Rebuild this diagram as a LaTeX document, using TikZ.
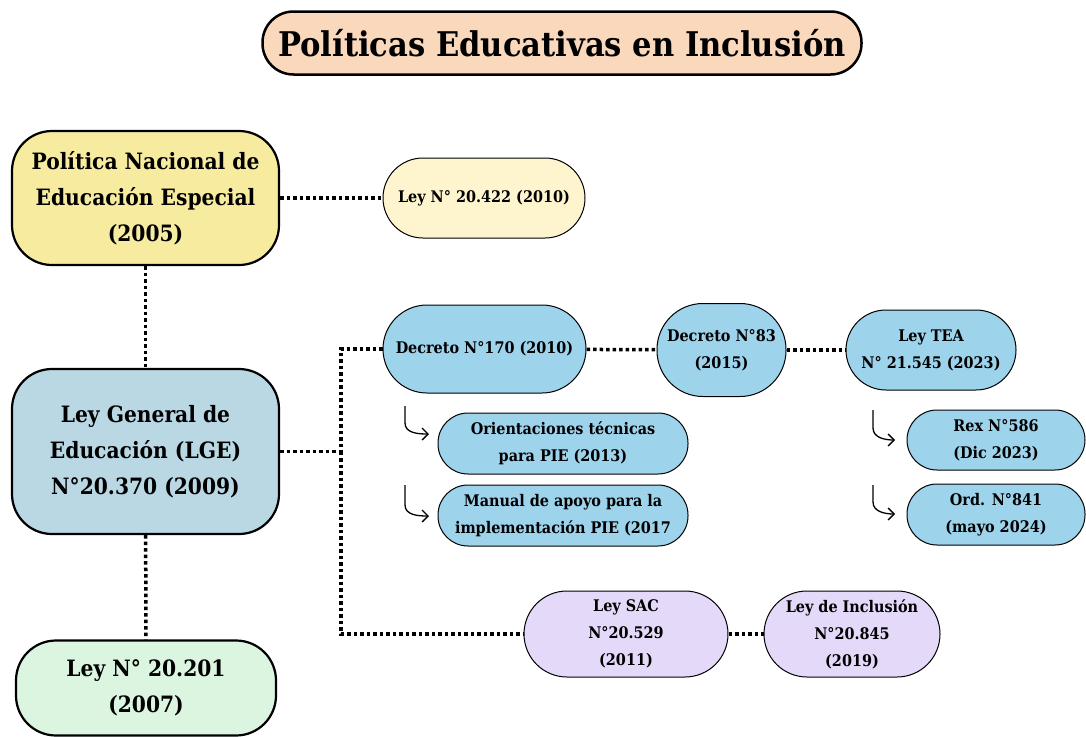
\documentclass[tikz,border=0pt]{standalone}
\usepackage{fontspec}
\setmainfont{DejaVu Serif Condensed}
\usetikzlibrary{arrows.meta}

\definecolor{titlefill}{HTML}{F9D8BC}
\definecolor{pneefill}{HTML}{F7EBA0}
\definecolor{lawfill}{HTML}{FEF5CE}
\definecolor{lgefill}{HTML}{B9D8E4}
\definecolor{greenfill}{HTML}{DBF5E1}
\definecolor{bluefill}{HTML}{9ED3EC}
\definecolor{lilacfill}{HTML}{E5D9FA}

\begin{document}
\begin{tikzpicture}[
    x = 1pt, y = -1pt,
    %
    box/.style = {draw, align = center, inner sep = 0pt,
      line width = 1pt},
    bigbox/.style = {box, line width = 2.2pt,
      rounded corners = 40pt,
      minimum width = 267pt,
      font = \fontsize{22.5}{36}\selectfont\bfseries},
    smallbox/.style = {box,
      font = \fontsize{16}{27}\selectfont\bfseries},
    %
    link/.style = {line width = 3.5pt,
      dash pattern = on 3.5pt off 3pt},
    hook/.style = {-{Straight Barb[length = 6pt, width = 12pt]},
      line width = 1.3pt},
    ]

    \useasboundingbox [fill = white] (0, 0) rectangle (1086, 736);

    \node at (562, 43)
    [box, line width = 2.5pt, rounded corners = 31pt, fill = titlefill,
      minimum width = 599pt, minimum height = 63pt,
      font = \fontsize{34}{40}\selectfont\bfseries, name = title]
    {Políticas Educativas en Inclusión};

    \node at (145.5, 198)
    [bigbox, fill = pneefill, minimum height = 134pt, name = PNEE]
    {Política Nacional de\\Educación Especial\\(2005)};
    \node at (484, 198)
    [smallbox, fill = lawfill, rounded corners = 40pt,
      minimum width = 202pt, minimum height = 80pt, name = L20422]
    {Ley N° 20.422 (2010)};

    \node at (145.5, 451.5)
    [bigbox, fill = lgefill, minimum height = 165pt, name = LGE]
    {Ley General de\\Educación (LGE)\\N°20.370 (2009)};

    \node at (146, 688)
    [bigbox, fill = greenfill, minimum width = 260pt,
      minimum height = 95pt, name = L20201]
    {Ley N° 20.201\\(2007)};

    \node at (484.5, 349)
    [smallbox, fill = bluefill, rounded corners = 44pt,
      minimum width = 203pt, minimum height = 88pt, name = D170]
    {Decreto N°170 (2010)};
    \node at (721.5, 350)
    [smallbox, fill = bluefill, rounded corners = 46pt,
      minimum width = 129pt, minimum height = 93pt, name = D83]
    {Decreto N°83\\(2015)};
    \node at (931, 350)
    [smallbox, fill = bluefill, rounded corners = 40pt,
      minimum width = 170pt, minimum height = 80pt, name = TEA]
    {Ley TEA\\N° 21.545 (2023)};

    \node at (563, 443.5)
    [smallbox, fill = bluefill, rounded corners = 30pt,
      minimum width = 250pt, minimum height = 61pt, name = OT]
    {Orientaciones técnicas\\para PIE (2013)};
    \node at (563, 515.5)
    [smallbox, fill = bluefill, rounded corners = 30pt,
      minimum width = 250pt, minimum height = 61pt, name = MA]
    {Manual de apoyo para la\\implementación PIE (2017};

    \node at (996, 440)
    [smallbox, fill = bluefill, rounded corners = 30pt,
      minimum width = 178pt, minimum height = 60pt, name = REX]
    {Rex N°586\\(Dic 2023)};
    \node at (996, 514.5)
    [smallbox, fill = bluefill, rounded corners = 30pt,
      minimum width = 178pt, minimum height = 61pt, name = ORD]
    {Ord. N°841\\(mayo 2024)};

    \node at (626, 634)
    [smallbox, fill = lilacfill, rounded corners = 43pt,
      minimum width = 204pt, minimum height = 86pt, name = SAC]
    {Ley SAC\\N°20.529\\(2011)};
    \node at (852, 634)
    [smallbox, fill = lilacfill, rounded corners = 43pt,
      minimum width = 176pt, minimum height = 86pt, name = INC]
    {Ley de Inclusión\\N°20.845\\(2019)};

    % dotted links
    \draw [link] (PNEE) -- (L20422);
    \draw [link] (PNEE) -- (LGE);
    \draw [link] (LGE) -- (L20201);

    \coordinate (fork) at (341, 451.5);
    \draw [link] (LGE.east) -- (fork) |- (D170.west);
    \draw [link] (fork) |- (SAC.west);

    \draw [link] (D170) -- (D83);
    \draw [link] (D83) -- (TEA);
    \draw [link] (SAC) -- (INC);

    % hook arrows
    \coordinate (hOT) at (405, 406);
    \coordinate (hMA) at (405, 485);
    \coordinate (hREX) at (873, 410);
    \coordinate (hORD) at (873, 485);

    \draw [hook] (hOT) -- ++(0, 17) to [out = -90, in = 180] ++(24, 11);
    \draw [hook] (hMA) -- ++(0, 20) to [out = -90, in = 180] ++(24, 11);
    \draw [hook] (hREX) -- ++(0, 18) to [out = -90, in = 180] ++(22, 12);
    \draw [hook] (hORD) -- ++(0, 17) to [out = -90, in = 180] ++(22, 12);

  \end{tikzpicture}
\end{document}
